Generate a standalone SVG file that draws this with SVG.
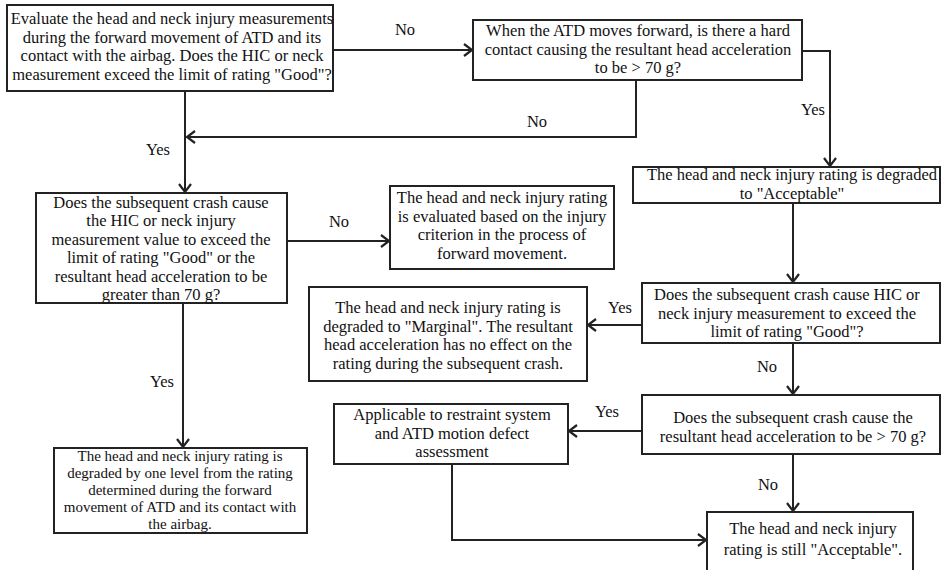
<svg xmlns="http://www.w3.org/2000/svg" width="941" height="570" viewBox="0 0 941 570">
<style>
.box{fill:#fff;stroke:#222;stroke-width:2}
.t{font-family:"Liberation Serif","Times New Roman",serif;font-size:16.5px;fill:#111;text-anchor:middle}
.s{font-size:15px}
.c{fill:none;stroke:#222;stroke-width:2}
</style>
<defs>
<marker id="ah" markerUnits="userSpaceOnUse" markerWidth="20" markerHeight="20" viewBox="-10 -10 20 20" refX="0" refY="0" orient="auto">
<path d="M-8,-6 L0,0 L-8,6" fill="none" stroke="#222" stroke-width="2.2"/>
</marker>
</defs>
<rect width="941" height="570" fill="#fff"/>
<g id="connectors">
<path class="c" d="M333,50 H472" marker-end="url(#ah)"/>
<path class="c" d="M636,80 V137 H187" marker-end="url(#ah)"/>
<path class="c" d="M802,51 H830 V166" marker-end="url(#ah)"/>
<path class="c" d="M185,91 V192" marker-end="url(#ah)"/>
<path class="c" d="M287,241 H389" marker-end="url(#ah)"/>
<path class="c" d="M793,203 V282" marker-end="url(#ah)"/>
<path class="c" d="M642,325 H588" marker-end="url(#ah)"/>
<path class="c" d="M793,343 V394" marker-end="url(#ah)"/>
<path class="c" d="M642,431 H569" marker-end="url(#ah)"/>
<path class="c" d="M793,454 V511" marker-end="url(#ah)"/>
<path class="c" d="M452,464 V540 H706" marker-end="url(#ah)"/>
<path class="c" d="M183,303 V447" marker-end="url(#ah)"/>
<text class="t" x="405" y="35">No</text>
<text class="t" x="158" y="155">Yes</text>
<text class="t" x="537" y="127">No</text>
<text class="t" x="813" y="115">Yes</text>
<text class="t" x="339" y="227">No</text>
<text class="t" x="162" y="387">Yes</text>
<text class="t" x="620" y="313">Yes</text>
<text class="t" x="767" y="372">No</text>
<text class="t" x="607" y="417">Yes</text>
<text class="t" x="768" y="490">No</text>
</g>
<g id="n1">
<rect class="box" x="7" y="5" width="326" height="86"/>
<text class="t" x="172" y="24">Evaluate the head and neck injury measurements</text>
<text class="t" x="172" y="42.5">during the forward movement of ATD and its</text>
<text class="t" x="172" y="61">contact with the airbag. Does the HIC or neck</text>
<text class="t" x="172" y="79.5">measurement exceed the limit of rating "Good"?</text>
</g>
<g id="n2">
<rect class="box" x="473" y="20" width="329" height="60"/>
<text class="t" x="638" y="36">When the ATD moves forward, is there a hard</text>
<text class="t" x="638" y="54.5">contact causing the resultant head acceleration</text>
<text class="t" x="638" y="73">to be &gt; 70 g?</text>
</g>
<g id="n3">
<rect class="box" x="633" y="167" width="307" height="36"/>
<text class="t" x="792" y="180">The head and neck injury rating is degraded</text>
<text class="t" x="792" y="198.5">to "Acceptable"</text>
</g>
<g id="n4">
<rect class="box" x="36" y="193" width="251" height="110"/>
<text class="t" x="161" y="207.5">Does the subsequent crash cause</text>
<text class="t" x="161" y="226">the HIC or neck injury</text>
<text class="t" x="161" y="244.5">measurement value to exceed the</text>
<text class="t" x="161" y="263">limit of rating "Good" or the</text>
<text class="t" x="161" y="281.5">resultant head acceleration to be</text>
<text class="t" x="161" y="300">greater than 70 g?</text>
</g>
<g id="n5">
<rect class="box" x="390" y="186" width="224" height="83"/>
<text class="t" x="502" y="203">The head and neck injury rating</text>
<text class="t" x="502" y="221.5">is evaluated based on the injury</text>
<text class="t" x="502" y="240">criterion in the process of</text>
<text class="t" x="502" y="258.5">forward movement.</text>
</g>
<g id="n6">
<rect class="box" x="309" y="287" width="278" height="94"/>
<text class="t" x="448" y="313">The head and neck injury rating is</text>
<text class="t" x="448" y="331.5">degraded to "Marginal". The resultant</text>
<text class="t" x="448" y="350">head acceleration has no effect on the</text>
<text class="t" x="448" y="368.5">rating during the subsequent crash.</text>
</g>
<g id="n7">
<rect class="box" x="642" y="283" width="298" height="60"/>
<text class="t" x="787" y="300">Does the subsequent crash cause HIC or</text>
<text class="t" x="787" y="318.5">neck injury measurement to exceed the</text>
<text class="t" x="787" y="337">limit of rating "Good"?</text>
</g>
<g id="n8">
<rect class="box" x="642" y="395" width="298" height="59"/>
<text class="t" x="793" y="423">Does the subsequent crash cause the</text>
<text class="t" x="793" y="441.5">resultant head acceleration to be &gt; 70 g?</text>
</g>
<g id="n9">
<rect class="box" x="334" y="404" width="234" height="60"/>
<text class="t" x="452" y="420">Applicable to restraint system</text>
<text class="t" x="452" y="438.5">and ATD motion defect</text>
<text class="t" x="452" y="457">assessment</text>
</g>
<g id="n10">
<rect class="box" x="54" y="448" width="253" height="85"/>
<text class="t s" x="180" y="460.5">The head and neck injury rating is</text>
<text class="t s" x="180" y="477.5">degraded by one level from the rating</text>
<text class="t s" x="180" y="494.5">determined during the forward</text>
<text class="t s" x="180" y="511.5">movement of ATD and its contact with</text>
<text class="t s" x="180" y="528.5">the airbag.</text>
</g>
<g id="n11">
<rect class="box" x="707" y="512" width="206" height="62"/>
<text class="t" x="813" y="534">The head and neck injury</text>
<text class="t" x="813" y="555">rating is still "Acceptable".</text>
</g>
</svg>
